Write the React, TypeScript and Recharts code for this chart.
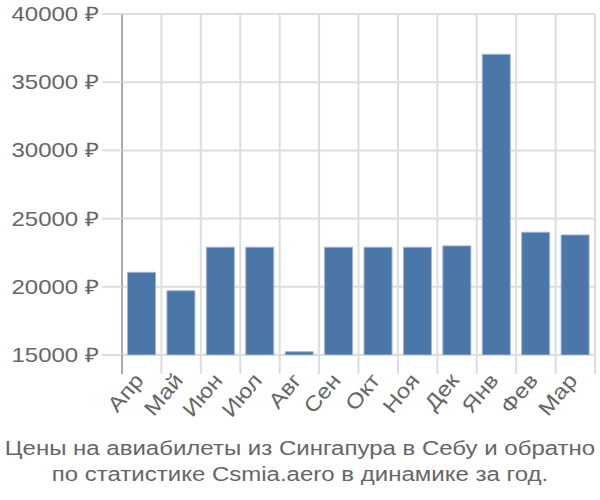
import { BarChart, Bar, XAxis, YAxis, CartesianGrid } from "recharts";

const months = ["Апр", "Май", "Июн", "Июл", "Авг", "Сен", "Окт", "Ноя", "Дек", "Янв", "Фев", "Мар"];
const prices = [21060, 19710, 22900, 22900, 15240, 22900, 22900, 22900, 23000, 37050, 24000, 23800];
const yTicks = [15000, 20000, 25000, 30000, 35000, 40000];
const titleLines = [
  "Цены на авиабилеты из Сингапура в Себу и обратно",
  "по статистике Csmia.aero в динамике за год.",
];

const data = months.map((m, i) => ({ month: m, price: prices[i] }));

const W = 600;
const H = 420;
const LEFT = 122;
const RIGHT = 5;
const BAND = (W - LEFT - RIGHT) / months.length;
const FONT = "'Liberation Sans', Arial, sans-serif";
const STRETCH = 1.2; // reference text is wider than normal glyphs

function MonthTick(props: any) {
  const { x, y, payload, index } = props;
  const bx = x - BAND / 2;
  const ax = x + 3;
  const ay = y + 26;
  return (
    <g>
      <line x1={bx} x2={bx} y1={y} y2={y + 19} stroke={index === 0 ? "#aaa" : "#ddd"} strokeWidth={2} />
      {index === months.length - 1 && (
        <line x1={x + BAND / 2} x2={x + BAND / 2} y1={y} y2={y + 19} stroke="#ddd" strokeWidth={2} />
      )}
      <text
        x={0}
        y={0}
        textAnchor="end"
        transform={`translate(${ax}, ${ay}) rotate(-50) scale(1.15, 1)`}
        fill="#666"
        fontSize={21}
        fontFamily={FONT}
      >
        {payload.value}
      </text>
    </g>
  );
}

function PriceTick(props: any) {
  const { x, y, payload } = props;
  return (
    <text
      x={0}
      y={0}
      dy={7}
      textAnchor="end"
      transform={`translate(${x}, ${y}) scale(${STRETCH}, 1)`}
      fill="#666"
      fontSize={20}
      fontFamily={FONT}
    >
      {`${payload.value} ₽`}
    </text>
  );
}

export default function App() {
  return (
    <div style={{ width: W, height: 500, position: "relative", background: "#fff", overflow: "hidden" }}>
      <style>{`body{margin:0}`}</style>
      <BarChart
        width={W}
        height={H}
        data={data}
        margin={{ top: 14, right: RIGHT, left: 0, bottom: 0 }}
        barCategoryGap="14%"
      >
        <CartesianGrid
          stroke="#ddd"
          strokeWidth={2}
          verticalCoordinatesGenerator={({ offset }: any) =>
            Array.from({ length: months.length + 1 }, (_, i) => offset.left + (i * offset.width) / months.length)
          }
        />
        <XAxis
          dataKey="month"
          axisLine={false}
          tickLine={false}
          tickSize={0}
          tickMargin={0}
          height={65}
          interval={0}
          tick={<MonthTick />}
        />
        <YAxis
          domain={[15000, 40000]}
          ticks={yTicks}
          allowDataOverflow
          width={LEFT}
          axisLine={{ stroke: "#aaa", strokeWidth: 2 }}
          tickLine={{ stroke: "#ddd", strokeWidth: 2 }}
          tickSize={20}
          tickMargin={3}
          tick={<PriceTick />}
        />
        <Bar dataKey="price" fill="#4a76a8" stroke="#9fb5d2" strokeWidth={1} isAnimationActive={false} />
      </BarChart>
      <div
        style={{
          position: "absolute",
          top: 435,
          left: 0,
          width: W,
          textAlign: "center",
          fontFamily: FONT,
          fontSize: 20,
          lineHeight: "26px",
          color: "#666",
          transform: `scaleX(${STRETCH})`,
          transformOrigin: "center",
          whiteSpace: "nowrap",
        }}
      >
        {titleLines.map((t) => (
          <div key={t}>{t}</div>
        ))}
      </div>
    </div>
  );
}
